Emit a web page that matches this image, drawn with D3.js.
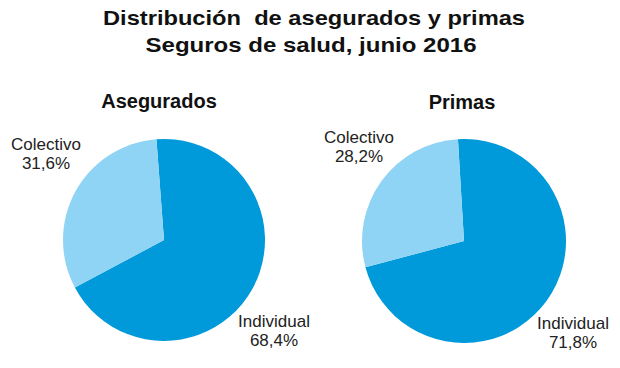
<!DOCTYPE html>
<html>
<head>
<meta charset="utf-8">
<script src="https://cdn.jsdelivr.net/npm/d3@7/dist/d3.min.js"></script>
<style>
  html, body { margin: 0; padding: 0; background: #fff; }
  svg text { font-family: Arial, "Liberation Sans", sans-serif; white-space: pre; }
</style>
</head>
<body>
<script>
// ---- data ----
const titleLines = ["Distribución  de asegurados y primas", "Seguros de salud, junio 2016"];
const categories = ["Individual", "Colectivo"];
const chartTitles = ["Asegurados", "Primas"];
const asegurados = [68.4, 31.6];
const primas = [71.8, 28.2];
const seriesList = [asegurados, primas];

// ---- layout ----
const W = 620, H = 368;
const colors = d3.scaleOrdinal().domain(categories).range(["#009ADA", "#8FD3F5"]);
const titleLayout = [ { x: 314, y: 24.5, len: 422 }, { x: 311, y: 51.5, len: 331 } ];
const pies = [
  { cx: 164, cy: 240, r: 101, start: -4.3, titleX: 159, titleY: 108,
    labels: { Individual: [274, 327], Colectivo: [46, 150] } },
  { cx: 464, cy: 241, r: 102, start: -3.4, titleX: 462, titleY: 109,
    labels: { Individual: [573, 329], Colectivo: [359, 143] } }
];

const svg = d3.select("body").append("svg")
  .attr("width", W).attr("height", H);

// title
svg.append("g").selectAll("text").data(titleLines).join("text")
  .attr("x", (d, i) => titleLayout[i].x).attr("y", (d, i) => titleLayout[i].y)
  .attr("text-anchor", "middle")
  .attr("textLength", (d, i) => titleLayout[i].len)
  .attr("lengthAdjust", "spacingAndGlyphs")
  .attr("font-size", 21).attr("font-weight", "bold").attr("fill", "#111")
  .text(d => d);

seriesList.forEach((values, k) => {
  const p = pies[k];
  const a0 = p.start * Math.PI / 180;
  const pie = d3.pie().sort(null).value(d => d.v)
    .startAngle(a0).endAngle(a0 + 2 * Math.PI);
  const arc = d3.arc().innerRadius(0).outerRadius(p.r);
  const data = categories.map((c, i) => ({ c, v: values[i] }));
  const g = svg.append("g").attr("transform", `translate(${p.cx},${p.cy})`);
  g.selectAll("path").data(pie(data)).join("path")
    .attr("d", arc)
    .attr("fill", d => colors(d.data.c));

  svg.append("text")
    .attr("x", p.titleX).attr("y", p.titleY)
    .attr("text-anchor", "middle")
    .attr("font-size", 20).attr("font-weight", "bold").attr("fill", "#111")
    .text(chartTitles[k]);

  const fmt = v => d3.format(".1f")(v).replace(".", ",") + "%";
  data.forEach(d => {
    const [lx, ly] = p.labels[d.c];
    const t = svg.append("text")
      .attr("x", lx).attr("y", ly)
      .attr("text-anchor", "middle")
      .attr("font-size", 17).attr("fill", "#222");
    t.append("tspan").attr("x", lx).text(d.c);
    t.append("tspan").attr("x", lx).attr("dy", 19).text(fmt(d.v));
  });
});
</script>
</body>
</html>
